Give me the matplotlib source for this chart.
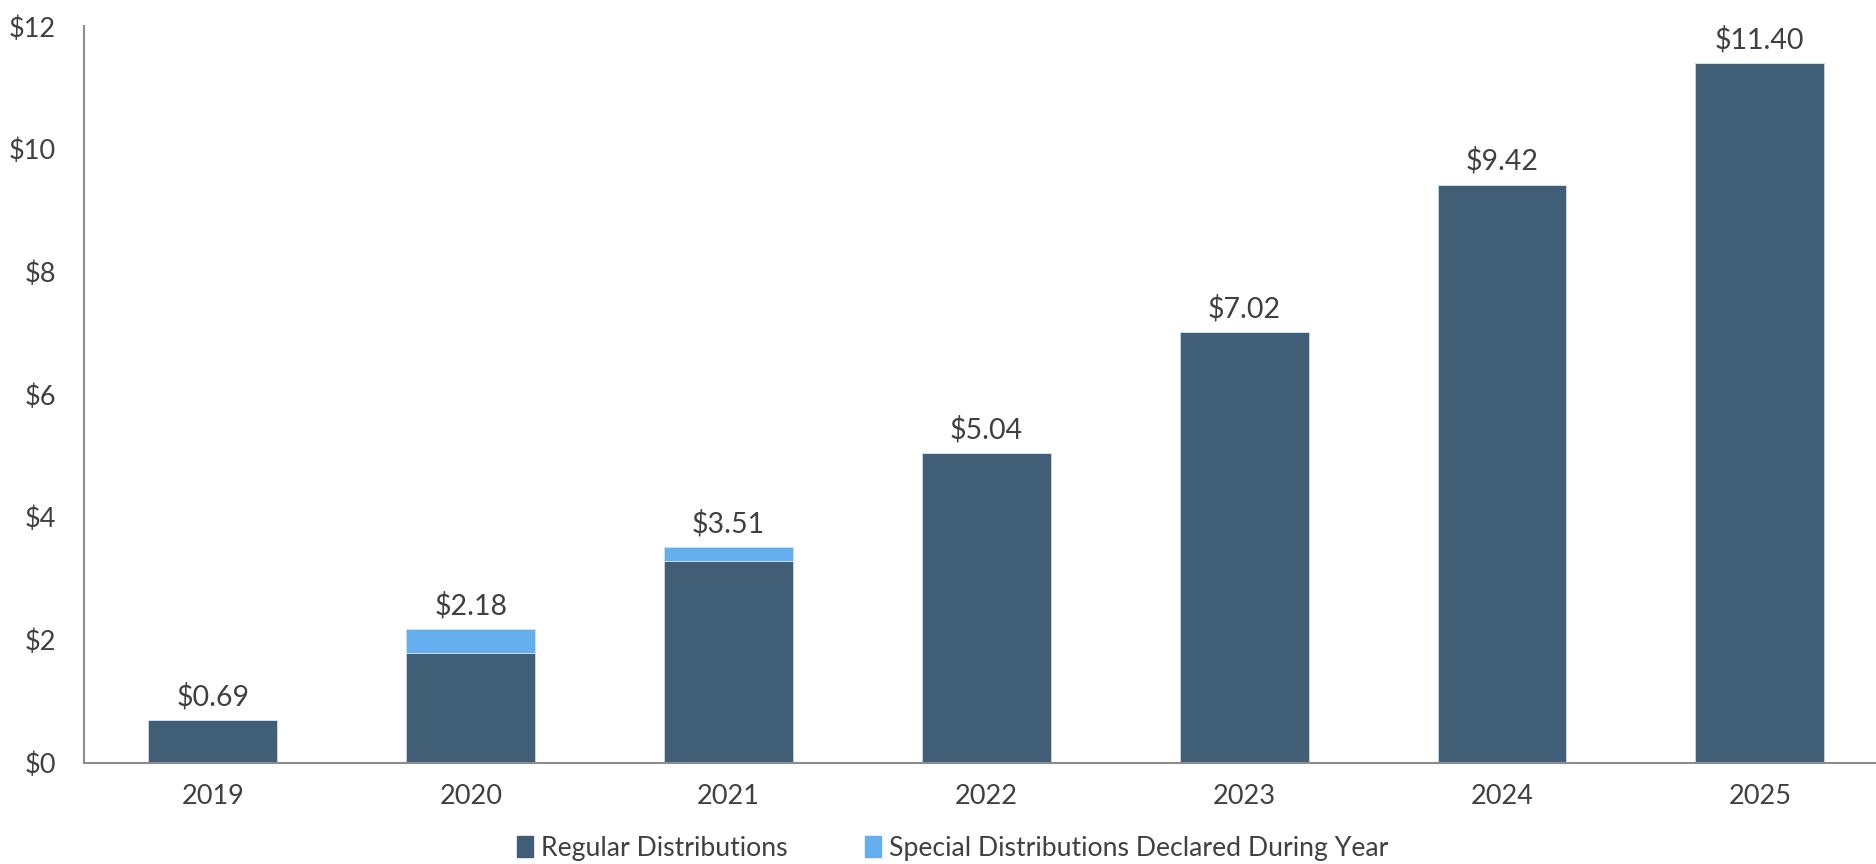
import matplotlib
matplotlib.use("Agg")
import matplotlib.pyplot as plt
from matplotlib.patches import Patch

years = ["2019", "2020", "2021", "2022", "2023", "2024", "2025"]
regular = [0.69, 1.78, 3.29, 5.04, 7.02, 9.42, 11.40]
special = [0.00, 0.40, 0.22, 0.00, 0.00, 0.00, 0.00]
totals = ["$0.69", "$2.18", "$3.51", "$5.04", "$7.02", "$9.42", "$11.40"]

DARK = "#415e77"
LIGHT = "#64aeee"
TXT = "#404040"
plt.rcParams["font.family"] = ["Lato", "DejaVu Sans"]

fig = plt.figure(figsize=(18.76, 8.64), dpi=100)
ax = fig.add_axes([0.0448, 0.1172, 0.962, 0.8524])
x = list(range(len(years)))
ax.bar(x, regular, width=0.5, color=DARK, edgecolor="#d0d8e0", linewidth=0.6)
ax.bar(x, special, width=0.5, bottom=regular, color=LIGHT, edgecolor="#d0e4f5", linewidth=0.6)
for xi, r, s, t in zip(x, regular, special, totals):
    ax.annotate(t, (xi, r + s), xytext=(0, 7), textcoords="offset points",
                ha="center", va="bottom", fontsize=20.5, color=TXT)

ax.set_xlim(-0.5, 6.5)
ax.set_ylim(0, 12)
ax.set_yticks(range(0, 13, 2))
ax.set_yticklabels([f"${v}" for v in range(0, 13, 2)])
ax.set_xticks(x)
ax.set_xticklabels(years)
ax.tick_params(length=0, labelsize=19.5, labelcolor=TXT)
ax.tick_params(axis="y", pad=20)
ax.tick_params(axis="x", pad=15)
for s in ["top", "right"]:
    ax.spines[s].set_visible(False)
for s in ["left", "bottom"]:
    ax.spines[s].set_color("#8c8c8c")
    ax.spines[s].set_linewidth(1.5)

handles = [Patch(color=DARK, label="Regular Distributions"),
           Patch(color=LIGHT, label="Special Distributions Declared During Year")]
fig.legend(handles=handles, loc="center", bbox_to_anchor=(0.508, 0.018), ncol=2,
           frameon=False, fontsize=19.2, handlelength=0.6, handleheight=0.8,
           handletextpad=0.3, columnspacing=2.9, labelcolor=TXT)

fig.savefig("out.png", dpi=100)
